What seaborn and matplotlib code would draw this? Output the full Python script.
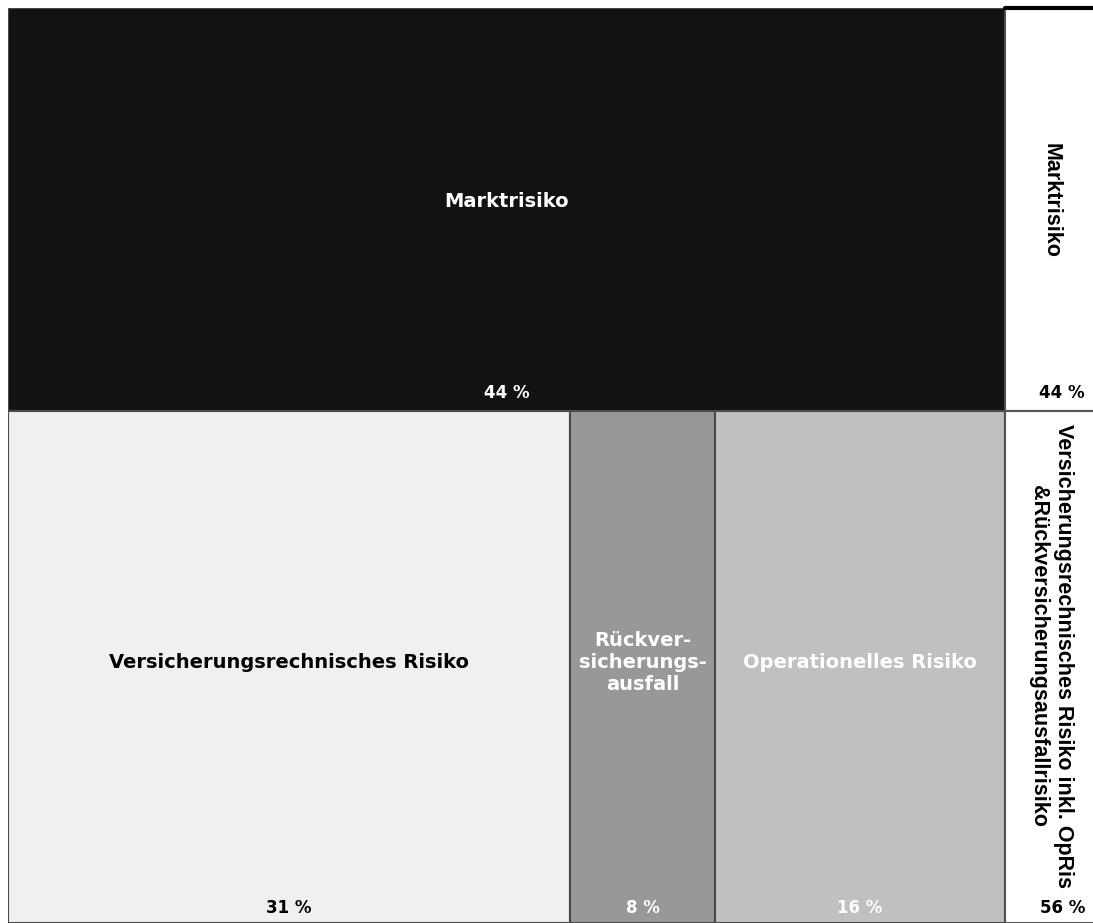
import matplotlib
matplotlib.use("Agg")
import matplotlib.pyplot as plt
import seaborn as sns
import numpy as np

sns.set_theme(style="white")
plt.rcParams['font.family'] = ['DejaVu Sans']

# ---- data ----
top_names = ["Marktrisiko"]
top_values = [44]
bottom_names = ["Versicherungsrechnisches Risiko", "Rückver-\nsicherungs-\nausfall", "Operationelles Risiko"]
bottom_values = [31, 8, 16]
group_names = ["Marktrisiko", "Versicherungsrechnisches Risiko inkl. OpRis\n&Rückversicherungsausfallrisiko"]
group_values = [44, 56]

top_colors = ["#121212"]
top_text = ["white"]
bottom_colors = ["#f0f0f0", "#989898", "#c0c0c0"]
bottom_text = ["black", "white", "white"]

W, H = 1093, 923
fig = plt.figure(figsize=(W / 100, H / 100), dpi=100)
fig.patch.set_facecolor("white")

total_w = sum(bottom_values)
ax = fig.add_axes([8 / W, 0, 997 / W, 915 / H])
ax.set_xlim(0, total_w)
ax.set_ylim(100, 0)
ax.axis("off")

edge = "#4a4a4a"
# top row
ax.bar([0], [top_values[0]], width=[total_w], bottom=[0], align="edge",
       color=top_colors, edgecolor=edge, linewidth=1.5)
for name, v, c in zip(top_names, top_values, top_text):
    ax.text(total_w / 2, v / 2 - 0.9, name, ha="center", va="center", color=c,
            fontsize=14, fontweight="bold")
    ax.annotate(f"{v} %", (total_w / 2, v), xytext=(0, 13), textcoords="offset points",
                ha="center", va="center", color=c, fontsize=12, fontweight="bold")

# bottom row
lefts = np.concatenate([[0], np.cumsum(bottom_values)[:-1]])
y0 = top_values[0]
h = 100 - y0
ax.bar(lefts, [h] * len(bottom_values), width=bottom_values, bottom=y0, align="edge",
       color=bottom_colors, edgecolor=edge, linewidth=1.5)
for l, w, name, c in zip(lefts, bottom_values, bottom_names, bottom_text):
    ax.text(l + w / 2, y0 + h / 2 - 0.5, name, ha="center", va="center", color=c,
            fontsize=14, fontweight="bold", linespacing=1.2)
    ax.annotate(f"{w} %", (l + w / 2, 100), xytext=(0, 11), textcoords="offset points",
                ha="center", va="center", color=c, fontsize=12, fontweight="bold")

# right column (group labels)
ax2 = fig.add_axes([1005 / W, 0, 88 / W, 915 / H])
ax2.set_xlim(0, 1)
ax2.set_ylim(100, 0)
ax2.axis("off")
gb = np.concatenate([[0], np.cumsum(group_values)[:-1]])
ax2.bar([0, 0], group_values, width=1.2, bottom=gb, align="edge",
        color="white", edgecolor="#555555", linewidth=1.5)
ax2.plot([0, 1], [0, 0], color="black", linewidth=3, clip_on=False)
for b, v, name in zip(gb, group_values, group_names):
    ax2.text(0.52, b + v / 2 - (1.0 if b == 0 else 1.2), name, rotation=270,
             ha="center", va="center", color="black", fontsize=15.5,
             fontweight="bold", family="Liberation Sans", linespacing=1.25,
             rotation_mode="anchor")
    ax2.annotate(f"{v} %", (0.65, b + v), xytext=(0, 13 if b == 0 else 11),
                 textcoords="offset points", ha="center", va="center",
                 color="black", fontsize=12, fontweight="bold")

fig.savefig("out.png", dpi=100, facecolor="white")
